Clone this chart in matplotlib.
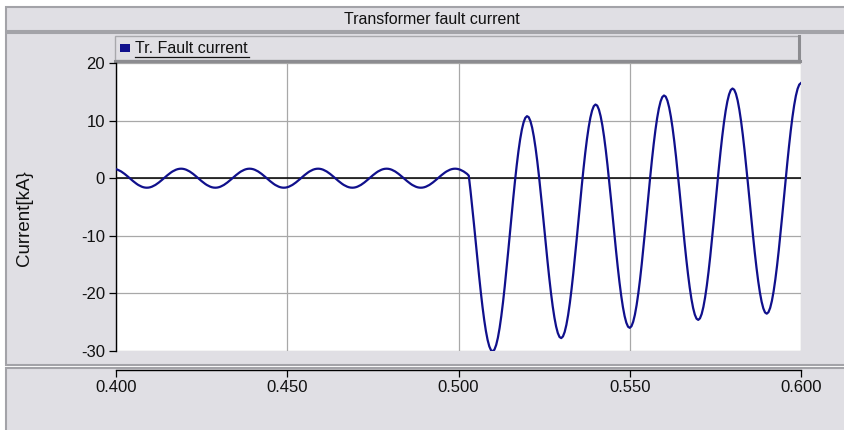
import numpy as np
import matplotlib
matplotlib.use("Agg")
import matplotlib.pyplot as plt
from matplotlib.patches import Rectangle

plt.rcParams['font.family'] = ['Liberation Sans', 'DejaVu Sans']
plt.rcParams['axes.unicode_minus'] = False

# Datos (kA), muestreo cada 0.5 ms desde 0.400 s
t_start = 0.400
t_step = 0.0005

# antes de la falla (0.400 ... 0.5025 s)
prefalla_ka = [
    1.57, 1.47, 1.33, 1.17, 0.97, 0.75, 0.51, 0.26, 0.00, -0.26, -0.51, -0.75, -0.97, -1.17, -1.33, -1.47, -1.57, -1.63, -1.65, -1.63,
    -1.57, -1.47, -1.33, -1.17, -0.97, -0.75, -0.51, -0.26, 0.00, 0.26, 0.51, 0.75, 0.97, 1.17, 1.33, 1.47, 1.57, 1.63, 1.65, 1.63,
    1.57, 1.47, 1.33, 1.17, 0.97, 0.75, 0.51, 0.26, 0.00, -0.26, -0.51, -0.75, -0.97, -1.17, -1.33, -1.47, -1.57, -1.63, -1.65, -1.63,
    -1.57, -1.47, -1.33, -1.17, -0.97, -0.75, -0.51, -0.26, 0.00, 0.26, 0.51, 0.75, 0.97, 1.17, 1.33, 1.47, 1.57, 1.63, 1.65, 1.63,
    1.57, 1.47, 1.33, 1.17, 0.97, 0.75, 0.51, 0.26, 0.00, -0.26, -0.51, -0.75, -0.97, -1.17, -1.33, -1.47, -1.57, -1.63, -1.65, -1.63,
    -1.57, -1.47, -1.33, -1.17, -0.97, -0.75, -0.51, -0.26, 0.00, 0.26, 0.51, 0.75, 0.97, 1.17, 1.33, 1.47, 1.57, 1.63, 1.65, 1.63,
    1.57, 1.47, 1.33, 1.17, 0.97, 0.75, 0.51, 0.26, 0.00, -0.26, -0.51, -0.75, -0.97, -1.17, -1.33, -1.47, -1.57, -1.63, -1.65, -1.63,
    -1.57, -1.47, -1.33, -1.17, -0.97, -0.75, -0.51, -0.26, 0.00, 0.26, 0.51, 0.75, 0.97, 1.17, 1.33, 1.47, 1.57, 1.63, 1.65, 1.63,
    1.57, 1.47, 1.33, 1.17, 0.97, 0.75, 0.51, 0.26, 0.00, -0.26, -0.51, -0.75, -0.97, -1.17, -1.33, -1.47, -1.57, -1.63, -1.65, -1.63,
    -1.57, -1.47, -1.33, -1.17, -0.97, -0.75, -0.51, -0.26, 0.00, 0.26, 0.51, 0.75, 0.97, 1.17, 1.33, 1.47, 1.57, 1.63, 1.65, 1.63,
    1.57, 1.47, 1.33, 1.17, 0.97, 0.75,
]

# falla (0.503 ... 0.600 s)
falla_ka = [
    0.44, -2.14, -4.94, -7.89, -10.92, -13.95, -16.90, -19.71, -22.29, -24.58,
    -26.53, -28.09, -29.21, -29.88, -30.05, -29.75, -28.95, -27.70, -26.01, -23.93,
    -21.51, -18.80, -15.86, -12.78, -9.62, -6.46, -3.38, -0.45, 2.26, 4.68,
    6.76, 8.44, 9.68, 10.47, 10.77, 10.59, 9.91, 8.78, 7.21, 5.25,
    2.94, 0.35, -2.47, -5.44, -8.48, -11.53, -14.49, -17.31, -19.91, -22.22,
    -24.18, -25.75, -26.89, -27.57, -27.76, -27.47, -26.69, -25.45, -23.78, -21.71,
    -19.30, -16.61, -13.69, -10.62, -7.47, -4.33, -1.26, 1.66, 4.36, 6.77,
    8.83, 10.50, 11.73, 12.51, 12.79, 12.60, 11.91, 10.76, 9.18, 7.21,
    4.89, 2.28, -0.55, -3.53, -6.58, -9.64, -12.62, -15.45, -18.06, -20.38,
    -22.36, -23.94, -25.09, -25.78, -25.98, -25.70, -24.93, -23.70, -22.04, -19.99,
    -17.59, -14.90, -11.99, -8.94, -5.80, -2.67, 0.39, 3.30, 5.98, 8.38,
    10.44, 12.10, 13.32, 14.09, 14.36, 14.16, 13.46, 12.30, 10.71, 8.73,
    6.40, 3.79, 0.95, -2.04, -5.11, -8.18, -11.17, -14.01, -16.62, -18.95,
    -20.94, -22.53, -23.69, -24.39, -24.60, -24.33, -23.57, -22.35, -20.70, -18.65,
    -16.26, -13.58, -10.68, -7.63, -4.50, -1.38, 1.67, 4.57, 7.25, 9.64,
    11.69, 13.34, 14.55, 15.31, 15.57, 15.36, 14.66, 13.50, 11.90, 9.91,
    7.57, 4.95, 2.10, -0.90, -3.97, -7.05, -10.04, -12.89, -15.51, -17.85,
    -19.84, -21.44, -22.60, -23.31, -23.52, -23.26, -22.51, -21.30, -19.65, -17.61,
    -15.22, -12.55, -9.66, -6.62, -3.49, -0.37, 2.67, 5.56, 8.23, 10.61,
    12.65, 14.30, 15.51, 16.26, 16.52,
]

current_ka = prefalla_ka + falla_ka
time_s = t_start + t_step * np.arange(len(current_ka))

x_ticks = [0.400, 0.450, 0.500, 0.550, 0.600]
x_labels = ['0.400', '0.450', '0.500', '0.550', '0.600']
y_ticks = [-30, -20, -10, 0, 10, 20]

titulo = 'Transformer fault current'
serie = 'Tr. Fault current'
etiqueta_y = 'Current[kA}'

panel = '#E0DFE4'
borde = '#A3A3A8'
azul = '#10108C'

W, H = 845, 430
fig = plt.figure(figsize=(W / 100, H / 100), dpi=100, facecolor='white')

# fondo en coordenadas de pixel
bg = fig.add_axes([0, 0, 1, 1])
bg.set_xlim(0, W)
bg.set_ylim(H, 0)
bg.axis('off')


def caja(x0, y0, x1, y1, fill=panel, edge=borde, lw=1.5):
    bg.add_patch(Rectangle((x0, y0), x1 - x0, y1 - y0, facecolor=fill,
                           edgecolor=edge, linewidth=lw))


caja(6.5, 6.5, 860, 31)      # barra de titulo
caja(6.5, 33, 860, 364.5)    # panel del grafico
caja(6.5, 367.5, 860, 440)   # panel del eje x

# leyenda
caja(115, 36, 799, 60, edge='#A8A8AC', lw=1.0)
bg.plot([799, 799], [36, 61], color='#8C8C90', lw=2.2)
bg.plot([115, 800], [60.5, 60.5], color='#8C8C90', lw=2.2)
bg.add_patch(Rectangle((120, 44), 10, 8, facecolor=azul, edgecolor='none'))
bg.text(135, 48.5, serie, fontsize=11.5, va='center', ha='left', color='#111111')
bg.plot([135, 249], [57, 57], color='#111111', lw=0.9)

bg.text(432, 19, titulo, fontsize=11.5, ha='center', va='center', color='#111111')

# grafico principal
ax = fig.add_axes([116 / W, (H - 351) / H, 685 / W, 288 / H])
ax.set_facecolor('white')
ax.plot(time_s, current_ka, color=azul, lw=1.6, zorder=3)
ax.axhline(0, color='black', lw=1.1, zorder=2)

ax.set_xlim(x_ticks[0], x_ticks[-1])
ax.set_ylim(y_ticks[0], y_ticks[-1])
ax.set_xticks(x_ticks)
ax.set_xticklabels(x_labels)
ax.set_yticks(y_ticks)
ax.grid(True, color='#A8A8A8', lw=0.9, zorder=1)
ax.set_axisbelow(True)

for s in ['top', 'right']:
    ax.spines[s].set_visible(False)
ax.spines['left'].set_color('black')
ax.spines['left'].set_linewidth(1.0)
ax.spines['bottom'].set_position(('outward', 13.7))
ax.spines['bottom'].set_color('black')
ax.spines['bottom'].set_linewidth(1.0)

ax.tick_params(axis='both', labelsize=12, direction='out', length=5,
               width=0.9, colors='black', labelcolor='#111111')
ax.tick_params(axis='y', pad=3)
ax.tick_params(axis='x', pad=2)

ax.set_ylabel(etiqueta_y, fontsize=13.5, color='#111111')
ax.yaxis.set_label_coords(-0.121, 0.462)

fig.savefig('out.png', dpi=100, facecolor='white')
